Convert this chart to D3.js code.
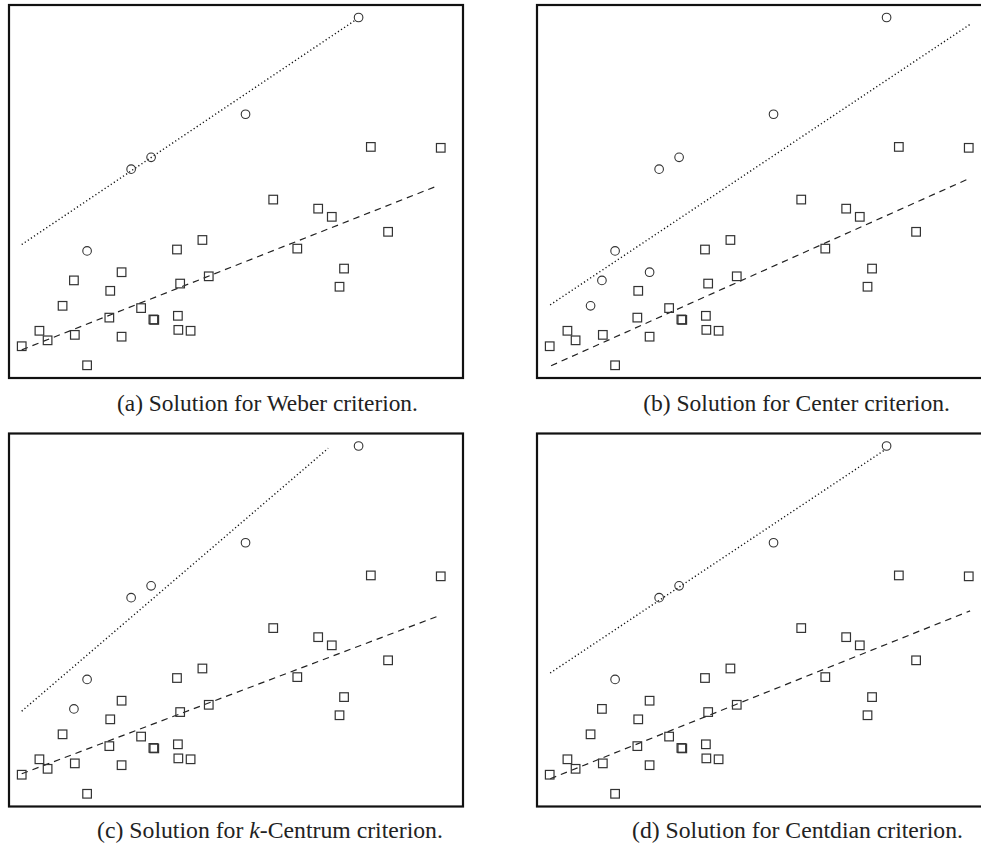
<!DOCTYPE html>
<html>
<head>
<meta charset="utf-8">
<script src="https://cdn.jsdelivr.net/npm/d3@7"></script>
<style>
  html, body { margin: 0; padding: 0; background: #fff; }
  svg { display: block; }
</style>
</head>
<body>
<svg id="chart" width="981" height="845"></svg>
<script>
// ---------- data (shared point set, same in every panel) ----------
const pointX = [77.0, 52.1, 31.3, 26.9, 17.2, 79.7, 95.1, 58.2, 68.1, 71.1,
                83.5, 42.6, 37.0, 63.5, 73.8, 72.8, 24.8, 14.3, 22.3, 37.7,
                44.0, 11.8, 29.1, 22.1, 32.0, 31.8, 37.2, 37.3, 40.0, 6.7,
                8.5, 14.5, 24.8, 2.8, 17.2];
const pointY = [79.4, 58.1, 48.6, 46.0, 28.0, 50.9, 50.7, 39.3, 37.3, 35.5,
                32.2, 30.4, 28.3, 28.5, 24.1, 20.1, 23.3, 21.5, 19.2, 20.8,
                22.4, 15.9, 15.4, 13.3, 12.8, 12.9, 13.7, 10.6, 10.4, 10.4,
                8.3, 9.5, 9.1, 7.0, 2.8];

// indices of points drawn as circles (facilities) in each panel
const circlesA = [0, 1, 2, 3, 4];
const circlesB = [0, 1, 2, 3, 4, 16, 17, 21];
const circlesC = [0, 1, 2, 3, 4, 17];
const circlesD = [0, 1, 2, 3, 4];

// fitted lines per panel: [x1, y1, x2, y2]
const dottedLines = [
  [2.8, 29.4, 76.4, 78.9],
  [2.9, 16.1, 95.4, 77.9],
  [2.8, 21.0, 70.3, 78.9],
  [2.9, 29.4, 76.7, 78.6]
];
const dashedLines = [
  [2.8, 6.2, 93.8, 42.1],
  [3.1, 2.7, 94.9, 43.8],
  [2.8, 7.2, 94.4, 41.9],
  [2.9, 6.1, 95.4, 43.1]
];

const captionLabels = ["(a)", "(b)", "(c)", "(d)"];
const captionNames = ["Weber", "Center", "k-Centrum", "Centdian"];

// ---------- layout ----------
const svg = d3.select("#chart");
const panelW = 454, panelH = 373;
const panels = [
  {left: 9,   top: 5,     circles: circlesA, capCx: 267.5, capW: 301, capY: 411},
  {left: 537, top: 5,     circles: circlesB, capCx: 796.5, capW: 307, capY: 411},
  {left: 9,   top: 433.5, circles: circlesC, capCx: 270,   capW: 346, capY: 838},
  {left: 537, top: 433.5, circles: circlesD, capCx: 797.5, capW: 331, capY: 838}
];

const x = d3.scaleLinear().domain([0, 100]).range([0, panelW]);
const y = d3.scaleLinear().domain([0, panelH / 4.54]).range([panelH, 0]);

const points = pointX.map((v, i) => ({x: v, y: pointY[i], i}));

panels.forEach((p, k) => {
  const g = svg.append("g").attr("transform", `translate(${p.left},${p.top})`);
  const circleSet = new Set(p.circles);

  // lines
  const dl = dottedLines[k];
  g.append("line")
    .attr("x1", x(dl[0])).attr("y1", y(dl[1]))
    .attr("x2", x(dl[2])).attr("y2", y(dl[3]))
    .attr("stroke", "#111").attr("stroke-width", 1.4)
    .attr("stroke-dasharray", "1.2,2.5");
  const ds = dashedLines[k];
  g.append("line")
    .attr("x1", x(ds[0])).attr("y1", y(ds[1]))
    .attr("x2", x(ds[2])).attr("y2", y(ds[3]))
    .attr("stroke", "#222").attr("stroke-width", 1.2)
    .attr("stroke-dasharray", "6.5,5");

  // squares (customers)
  g.selectAll("rect.pt")
    .data(points.filter(d => !circleSet.has(d.i)))
    .enter().append("rect")
    .attr("class", "pt")
    .attr("x", d => x(d.x) - 4.3)
    .attr("y", d => y(d.y) - 4.3)
    .attr("width", 8.6).attr("height", 8.6)
    .attr("fill", "none").attr("stroke", "#333").attr("stroke-width", 1.2);

  // circles (facilities)
  g.selectAll("circle.pt")
    .data(points.filter(d => circleSet.has(d.i)))
    .enter().append("circle")
    .attr("class", "pt")
    .attr("cx", d => x(d.x)).attr("cy", d => y(d.y))
    .attr("r", 4.3)
    .attr("fill", "none").attr("stroke", "#333").attr("stroke-width", 1.1);

  // frame
  g.append("rect")
    .attr("x", 0).attr("y", 0)
    .attr("width", panelW).attr("height", panelH)
    .attr("fill", "none").attr("stroke", "#111").attr("stroke-width", 2.2);

  // caption
  const t = svg.append("text")
    .attr("x", p.capCx).attr("y", p.capY)
    .attr("text-anchor", "middle")
    .attr("font-family", "'Liberation Serif', 'DejaVu Serif', serif")
    .attr("font-size", 17)
    .attr("fill", "#222");
  const name = captionNames[k];
  t.append("tspan").text(captionLabels[k] + " Solution for ");
  if (name.startsWith("k-")) {
    t.append("tspan").attr("font-style", "italic").text("k");
    t.append("tspan").text(name.slice(1) + " criterion.");
  } else {
    t.append("tspan").text(name + " criterion.");
  }
  const w = t.node().getComputedTextLength();
  t.attr("font-size", 17 * p.capW / w);
});
</script>
</body>
</html>
